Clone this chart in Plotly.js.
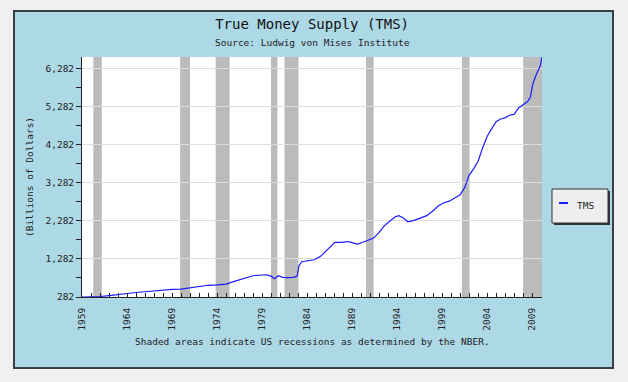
<!DOCTYPE html>
<html>
<head>
<meta charset="utf-8">
<script src="https://cdn.plot.ly/plotly-3.0.1.min.js"></script>
<style>
  html, body { margin: 0; padding: 0; background: #f0f0f0; }
  #panel { position: absolute; left: 13px; top: 10px; width: 597px; height: 355px;
           background: #add8e6; border: 2px solid #3a3f44; }
  #chart { position: absolute; left: 0; top: 0; width: 628px; height: 382px; }
</style>
</head>
<body>
<div id="panel"></div>
<div id="chart"></div>
<script>
// TMS data (decimal year, billions of dollars)
const years = [1959.0, 1960.0, 1961.0, 1962.0, 1963.0, 1964.0, 1965.0, 1966.0, 1967.0, 1968.0,
  1969.0, 1970.0, 1971.0, 1972.0, 1973.0, 1974.0, 1975.0, 1976.0, 1977.0, 1978.0,
  1979.0, 1979.5, 1980.0, 1980.4, 1980.8, 1981.3, 1981.8, 1982.5, 1982.9, 1983.1,
  1983.4, 1984.0, 1984.8, 1985.5, 1986.0, 1986.5, 1987.1, 1987.8, 1988.5, 1989.0,
  1989.6, 1990.2, 1990.8, 1991.4, 1992.0, 1992.6, 1993.2, 1993.8, 1994.2, 1994.7,
  1995.2, 1995.8, 1996.5, 1997.3, 1998.0, 1998.6, 1999.2, 1999.8, 2000.5, 2001.0,
  2001.5, 2002.0, 2002.5, 2003.0, 2003.5, 2004.0, 2004.5, 2005.0, 2005.5, 2006.0,
  2006.5, 2007.0, 2007.5, 2008.0, 2008.5, 2008.8, 2009.1, 2009.5, 2009.9, 2010.1];
const tms = [282, 285, 295, 320, 350, 375, 400, 420, 445, 465,
  480, 490, 520, 560, 590, 600, 620, 700, 780, 840,
  860, 865, 830, 760, 840, 800, 790, 800, 830, 1100,
  1210, 1240, 1260, 1350, 1470, 1600, 1720, 1720, 1740, 1710,
  1670, 1720, 1770, 1830, 1980, 2160, 2280, 2390, 2420, 2360,
  2260, 2290, 2350, 2420, 2550, 2680, 2760, 2800, 2900, 2970,
  3150, 3480, 3650, 3850, 4200, 4500, 4700, 4890, 4960, 4990,
  5060, 5080, 5250, 5330, 5420, 5530, 5900, 6150, 6350, 6590];

// NBER recessions (decimal years)
const recStart = [1960.25, 1969.9, 1973.85, 1980.0, 1981.5, 1990.55, 2001.2, 2008.0];
const recEnd   = [1961.2, 1971.0, 1975.4, 1980.7, 1983.05, 1991.4, 2002.05, 2010.1];

const xTickVals = [1959, 1964, 1969, 1974, 1979, 1984, 1989, 1994, 1999, 2004, 2009];
const yTickVals = [282, 1282, 2282, 3282, 4282, 5282, 6282];
const seriesName = 'TMS';

const mono = "DejaVu Sans Mono, monospace";
const lineColor = '#1a1aff';

// plot area in pixels: left 82, right 542, top 57, bottom 297
const px = x => (x - 82) / 460;
const py = y => (297 - y) / 240;

const shapes = recStart.map((s, i) => ({
  type: 'rect', xref: 'x', yref: 'paper', x0: s, x1: recEnd[i], y0: 0, y1: 1,
  fillcolor: '#bbbbbb', line: {width: 0}, layer: 'below'
}));
// legend box (with shadow) and its line sample
shapes.push({type: 'rect', xref: 'paper', yref: 'paper', x0: px(554), x1: px(610), y0: py(225), y1: py(191),
             fillcolor: '#333333', line: {width: 0}});
shapes.push({type: 'rect', xref: 'paper', yref: 'paper', x0: px(552), x1: px(608), y0: py(223), y1: py(189),
             fillcolor: '#eeeeee', line: {color: '#333333', width: 1}});
shapes.push({type: 'line', xref: 'paper', yref: 'paper', x0: px(559), x1: px(568), y0: py(203), y1: py(203),
             line: {color: lineColor, width: 2}});

const trace = {
  x: years, y: tms, type: 'scatter', mode: 'lines', name: seriesName,
  line: {color: lineColor, width: 1.2}
};

const layout = {
  width: 628, height: 382,
  margin: {l: 82, r: 86, t: 57, b: 85},
  paper_bgcolor: 'rgba(0,0,0,0)',
  plot_bgcolor: '#ffffff',
  font: {family: mono, size: 9.5, color: '#222222'},
  title: {text: 'True Money Supply (TMS)', font: {family: mono, size: 14, color: '#111111'},
          x: 0.497, xanchor: 'center', y: 1 - 24/382, yanchor: 'middle', yref: 'container'},
  xaxis: {
    range: [1959, 2010.1], tickmode: 'array', tickvals: xTickVals,
    tickangle: -90, ticks: 'inside', ticklen: 4, tickcolor: '#222', ticklabelstandoff: 6,
    showline: true, linecolor: '#222', linewidth: 1, showgrid: false, zeroline: false,
    minor: {dtick: 1, tick0: 1959, ticks: 'inside', ticklen: 4, tickcolor: '#222', showgrid: false},
    tickfont: {family: mono, size: 9.5}
  },
  yaxis: {
    range: [282, 6590], tickmode: 'array', tickvals: yTickVals, tickformat: ',d',
    ticks: 'outside', ticklen: 5, tickcolor: '#222',
    showline: true, linecolor: '#222', linewidth: 1, gridcolor: '#dddddd', zeroline: false,
    minor: {dtick: 500, tick0: 282, ticks: 'outside', ticklen: 5, tickcolor: '#222', showgrid: false},
    title: {text: '(Billions of Dollars)', font: {family: mono, size: 9.5}, standoff: 10},
    tickfont: {family: mono, size: 9.5}
  },
  shapes: shapes,
  showlegend: false,
  annotations: [
    {text: 'Source: Ludwig von Mises Institute', xref: 'paper', yref: 'paper',
     x: 0.5, y: py(42), xanchor: 'center', yanchor: 'middle', showarrow: false,
     font: {family: mono, size: 9.5}},
    {text: 'Shaded areas indicate US recessions as determined by the NBER.', xref: 'paper', yref: 'paper',
     x: 0.5, y: py(341), xanchor: 'center', yanchor: 'middle', showarrow: false,
     font: {family: mono, size: 9.5}},
    {text: seriesName, xref: 'paper', yref: 'paper',
     x: px(585), y: py(205), xanchor: 'center', yanchor: 'middle', showarrow: false,
     font: {family: mono, size: 9.5}}
  ]
};

Plotly.newPlot('chart', [trace], layout, {displayModeBar: false, staticPlot: true});
</script>
</body>
</html>
